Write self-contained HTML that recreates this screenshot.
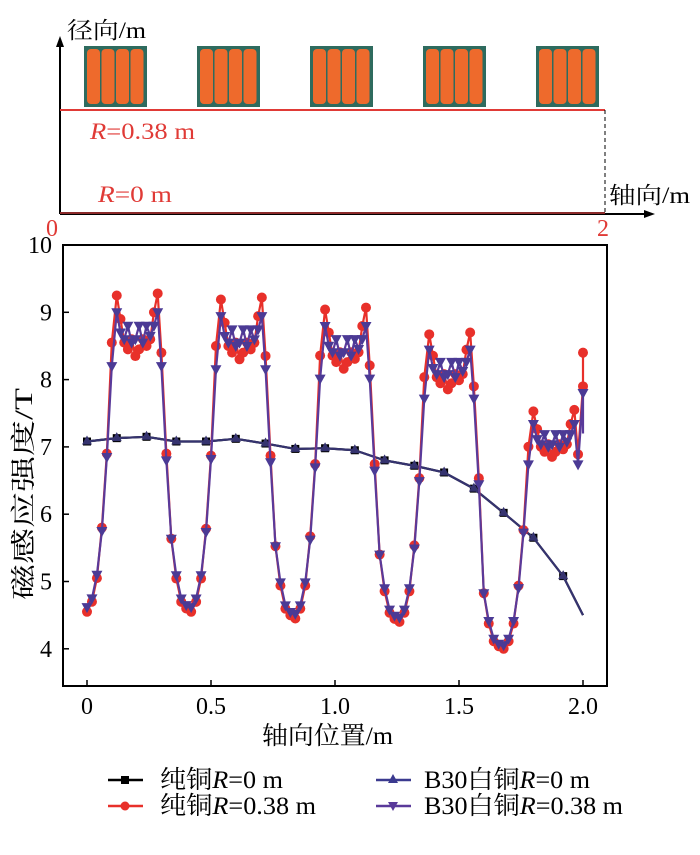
<!DOCTYPE html><html><head><meta charset="utf-8"><style>
html,body{margin:0;padding:0;background:#fff;width:700px;height:855px;overflow:hidden}
svg{display:block;font-family:"Liberation Serif","Noto Serif CJK SC",serif}
</style></head><body>
<svg id="s" width="700" height="855" xmlns="http://www.w3.org/2000/svg">
<line x1="60" y1="214" x2="60" y2="45" stroke="#000" stroke-width="2"/>
<polygon points="60,36 56,47 64,47" fill="#000"/>
<line x1="60" y1="214" x2="645" y2="214" stroke="#000" stroke-width="2"/>
<polygon points="655,214 644,210 644,218" fill="#000"/>
<line x1="60" y1="213" x2="605" y2="213" stroke="#8b2a2a" stroke-width="2"/>
<line x1="60" y1="110" x2="605" y2="110" stroke="#e03a36" stroke-width="2"/>
<line x1="605" y1="110" x2="605" y2="214" stroke="#000" stroke-width="1" stroke-dasharray="4,3"/>
<g id="coils"></g>
<text x="67" y="38" font-size="23" textLength="79" lengthAdjust="spacingAndGlyphs">径向/m</text>
<text x="609" y="203" font-size="23" textLength="81" lengthAdjust="spacingAndGlyphs">轴向/m</text>
<text x="90" y="139" font-size="23" fill="#e03a36" textLength="105" lengthAdjust="spacingAndGlyphs"><tspan font-style="italic">R</tspan>=0.38 m</text>
<text x="98" y="202" font-size="23" fill="#e03a36" textLength="74" lengthAdjust="spacingAndGlyphs"><tspan font-style="italic">R</tspan>=0 m</text>
<text x="46" y="236" font-size="24" fill="#e03a36">0</text>
<text x="597" y="236" font-size="24" fill="#e03a36">2</text>
<rect x="63" y="245" width="544" height="441" fill="none" stroke="#000" stroke-width="2"/>
<g id="ticks" stroke="#000" stroke-width="1.5"></g>
<g id="lbl" font-size="24"></g>
<text transform="translate(32,494) rotate(-90)" font-size="25" text-anchor="middle" textLength="212" lengthAdjust="spacingAndGlyphs">磁感应强度/T</text>
<text x="262" y="744" font-size="25" textLength="131" lengthAdjust="spacingAndGlyphs">轴向位置/m</text>
<g id="series"></g>
<g font-size="25">
<line x1="108" y1="780" x2="143" y2="780" stroke="#000" stroke-width="2.5"/><rect x="121" y="776" width="8" height="8" fill="#000"/>
<text x="160" y="788" textLength="123" lengthAdjust="spacingAndGlyphs">纯铜<tspan font-style="italic">R</tspan>=0 m</text>
<line x1="108" y1="806" x2="143" y2="806" stroke="#e8302a" stroke-width="2.5"/><circle cx="125" cy="806" r="4.5" fill="#e8302a"/>
<text x="160" y="814" textLength="156" lengthAdjust="spacingAndGlyphs">纯铜<tspan font-style="italic">R</tspan>=0.38 m</text>
<line x1="376" y1="780" x2="411" y2="780" stroke="#3b3a8f" stroke-width="2.5"/><polygon points="393,774 388,783 398,783" fill="#3b3a8f"/>
<text x="424" y="788" textLength="166" lengthAdjust="spacingAndGlyphs">B30白铜<tspan font-style="italic">R</tspan>=0 m</text>
<line x1="376" y1="806" x2="411" y2="806" stroke="#5a3a9a" stroke-width="2.5"/><polygon points="393,811 388,802 398,802" fill="#5a3a9a"/>
<text x="424" y="814" textLength="199" lengthAdjust="spacingAndGlyphs">B30白铜<tspan font-style="italic">R</tspan>=0.38 m</text>
</g>
</svg>
<script>
const NS="http://www.w3.org/2000/svg";
function el(p,t,a){const e=document.createElementNS(NS,t);for(const k in a)e.setAttribute(k,a[k]);p.appendChild(e);return e;}
const coils=document.getElementById('coils');
[84,197,310,423,536].forEach(x=>{el(coils,'rect',{x:x,y:46,width:63,height:61,fill:'#2e6b5e'});
for(let i=0;i<4;i++)el(coils,'rect',{x:x+3+i*14.5,y:49,width:13,height:55,rx:4,fill:'#ee6a2c'});});
const X=v=>87+v*248, Y=v=>245+(10-v)*67.3;
const tk=document.getElementById('ticks'),lb=document.getElementById('lbl');
[0,0.5,1,1.5,2].forEach((v,i)=>{el(tk,'line',{x1:X(v),y1:686,x2:X(v),y2:680});
const t=el(lb,'text',{x:X(v),y:714,'text-anchor':'middle'});t.textContent=['0','0.5','1.0','1.5','2.0'][i];});
[4,5,6,7,8,9,10].forEach(v=>{el(tk,'line',{x1:63,y1:Y(v),x2:69,y2:Y(v)});
const t=el(lb,'text',{x:52,y:Y(v)+8,'text-anchor':'end'});t.textContent=v;});
const R=[[-0.08,5.65],[-0.06,5.05],[-0.04,4.7],[-0.02,4.6],[0,4.55],[0.02,4.7],[0.04,5.05],[0.06,5.8],[0.08,6.9],[0.10,8.55],[0.12,9.25],[0.135,8.9],[0.15,8.55],[0.165,8.45],[0.18,8.6],[0.195,8.35],[0.21,8.45],[0.225,8.6],[0.24,8.5],[0.255,8.6],[0.27,9.0],[0.285,9.28],[0.30,8.4],[0.32,6.9]];
const B=[[-0.08,5.65],[-0.06,5.1],[-0.04,4.75],[-0.02,4.65],[0,4.62],[0.02,4.75],[0.04,5.1],[0.06,5.75],[0.08,6.85],[0.10,8.2],[0.12,9.0],[0.135,8.7],[0.15,8.6],[0.165,8.8],[0.18,8.55],[0.195,8.6],[0.21,8.8],[0.225,8.55],[0.24,8.8],[0.255,8.65],[0.27,8.8],[0.285,9.0],[0.30,8.2],[0.32,6.8]];
const P=[[4.55,9.28],[4.55,9.22],[4.45,9.07],[4.4,8.7],[4.0,7.55]];
function gen(T,last){const pts=[];for(let k=0;k<5;k++){const c=0.42*k,[mn,mx]=P[k];
T.forEach(([o,v])=>{const x=c+o;if(x<0||x>2.001)return;pts.push([x,mn+(v-4.55)/4.73*(mx-mn)]);});}
pts.push([2.0,last[0]]);return pts;}
const red=gen(R,[8.4]);red[red.length-2][1]=7.9;
const blu=gen(B,[7.2]);blu[blu.length-2][1]=7.8;
const S=document.getElementById('series');
function line(pts,col){el(S,'polyline',{points:pts.map(p=>X(p[0])+','+Y(p[1])).join(' '),fill:'none',stroke:col,'stroke-width':2.2,'stroke-linejoin':'round'});}
const sm=[[0,7.08],[0.12,7.13],[0.24,7.15],[0.36,7.08],[0.48,7.08],[0.6,7.12],[0.72,7.05],[0.84,6.97],[0.96,6.98],[1.08,6.95],[1.2,6.8],[1.32,6.72],[1.44,6.62],[1.56,6.38],[1.68,6.02],[1.8,5.65],[1.92,5.08],[2.0,4.5]];
line(sm,'#000');sm.slice(0,-1).forEach(p=>el(S,'rect',{x:X(p[0])-4,y:Y(p[1])-4,width:8,height:8,fill:'#000'}));
line(sm,'#35336f');sm.slice(0,-1).forEach(p=>{const x=X(p[0]),y=Y(p[1]);el(S,'polygon',{points:`${x},${y-6} ${x-5},${y+3} ${x+5},${y+3}`,fill:'#35336f'});});
line(red,'#e8302a');red.forEach(p=>el(S,'circle',{cx:X(p[0]),cy:Y(p[1]),r:5,fill:'#e8302a'}));
line(blu,'#5a3a9a');blu.slice(0,-1).forEach(p=>{const x=X(p[0]),y=Y(p[1]);el(S,'polygon',{points:`${x},${y+6} ${x-5.5},${y-4} ${x+5.5},${y-4}`,fill:'#4b3a95'});});
</script>
</body></html>
